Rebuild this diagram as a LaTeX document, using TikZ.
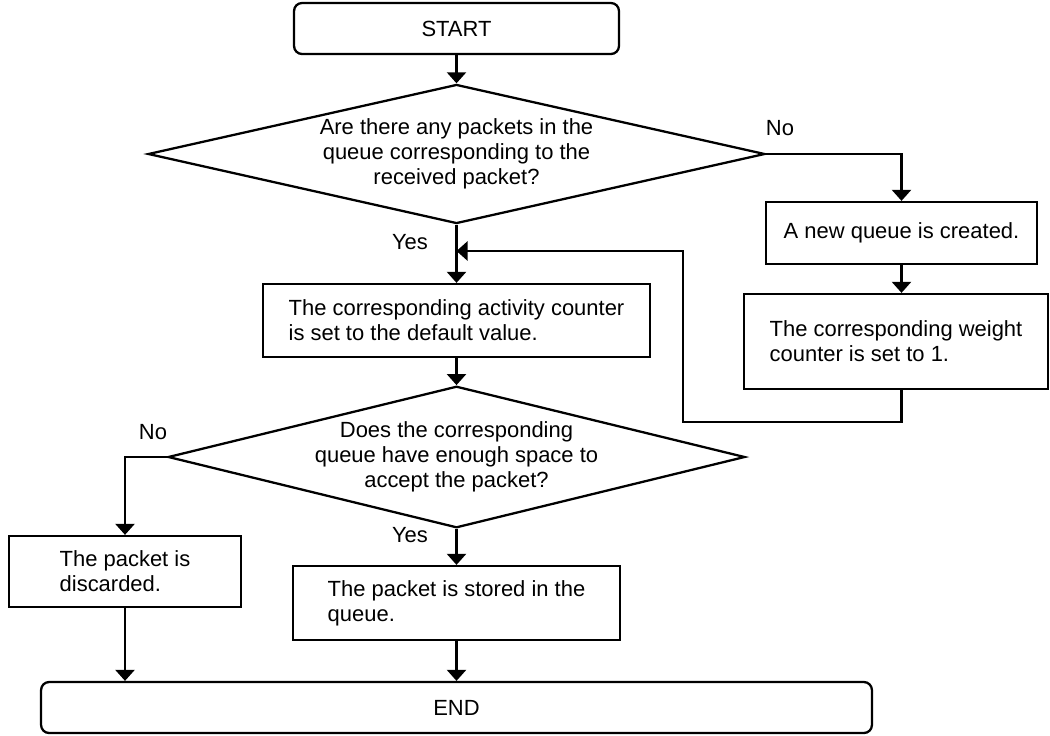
\documentclass[tikz,border=0pt]{standalone}
\usepackage{fontspec}
\setmainfont{Liberation Sans}
\usetikzlibrary{shapes.geometric,arrows.meta}

\begin{document}
\begin{tikzpicture}[x=0.02cm, y=-0.02cm,
    font=\fontsize{12.5}{14.3}\selectfont,
    every path/.style={line width=1.3pt},
    proc/.style={draw, rectangle, inner sep=0pt, align=left},
    term/.style={draw, rectangle, rounded corners=0.16cm, inner sep=0pt},
    test/.style={draw, diamond, aspect=4, inner sep=0pt, align=center},
    arrow/.style={-{Triangle[width=0.38cm,length=0.22cm]}}]
    \useasboundingbox (0,0) rectangle (1050,735);

    % main column
    \node[term, minimum width=6.5cm, minimum height=1.02cm] (start) at (456.5,28.5) {START};
    \node[test, minimum width=12.34cm, minimum height=2.72cm] (q1) at (456.5,154)
        {Are there any packets in the\\queue corresponding to the\\received packet?};
    \node[proc, minimum width=7.74cm, minimum height=1.46cm] (act) at (456.5,320.5)
        {The corresponding activity counter\\is set to the default value.};
    \node[test, minimum width=11.54cm, minimum height=2.68cm] (q2) at (456.5,457)
        {Does the corresponding\\queue have enough space to\\accept the packet?};
    \node[proc, minimum width=6.54cm, minimum height=1.48cm] (store) at (456.5,603)
        {The packet is stored in the\\queue.};
    \node[term, minimum width=16.62cm, minimum height=1.02cm] (stop) at (456.5,707.5) {END};

    % side boxes
    \node[proc, minimum width=5.42cm, minimum height=1.24cm] (newq) at (901.5,233)
        {A new queue is created.};
    \node[proc, minimum width=6.08cm, minimum height=1.9cm] (weight) at (896,341.5)
        {The corresponding weight\\counter is set to 1.};
    \node[proc, minimum width=4.64cm, minimum height=1.42cm] (drop) at (125,571.5)
        {The packet is\\discarded.};

    % branch labels
    \node (no1) at (780,128) {No};
    \node (yes1) at (410,242) {Yes};
    \node (no2) at (153,432) {No};
    \node (yes2) at (410,535) {Yes};

    \coordinate (merge) at (456.5,251);

    \draw[arrow] (start) -- (q1);
    \draw[arrow] (q1) -- (act);
    \draw[arrow] (act) -- (q2);
    \draw[arrow] (q2) -- (store);
    \draw[arrow] (store) -- (stop);
    \draw[arrow] (q1.east) -| (newq);
    \draw[arrow] (newq.south) -- (newq.south |- weight.north);
    \draw[arrow] (newq.south |- weight.south) |- (683,422) |- (merge);
    \draw[arrow] (q2.west) -| (drop);
    \draw[arrow] (drop) -- (drop |- stop.north);

\end{tikzpicture}
\end{document}
